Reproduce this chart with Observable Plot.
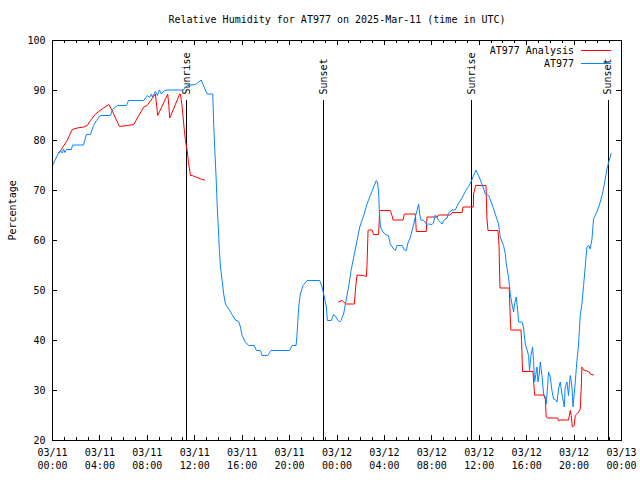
<!DOCTYPE html>
<html><head><meta charset="utf-8">
<script src="https://cdn.jsdelivr.net/npm/d3@7"></script>
<script src="https://cdn.jsdelivr.net/npm/@observablehq/plot@0.6"></script>
<style>
body{margin:0;background:#fff;}
#wrap{position:relative;width:640px;height:480px;}
#legend{position:absolute;left:0;top:0;pointer-events:none;}
</style></head><body>
<div id="wrap"></div>
<script>
const title = "Relative Humidity for AT977 on 2025-Mar-11 (time in UTC)";
const yLabel = "Percentage";
const startUTC = Date.UTC(2025, 2, 11);
const seriesNames = ["AT977 Analysis", "AT977"];
const seriesColors = ["#ff0000", "#0a84ff"];

// hours since 03/11 00:00 UTC
const analysisHours = [0.55,1.24,1.66,2.08,2.64,2.93,3.2,3.63,4.19,4.75,5.03,5.31,5.65,6.3,6.86,7.28,7.7,7.98,8.68,8.83,8.88,9.72,9.81,9.89,10.73,10.79,10.94,11.07,11.21,11.36,11.49,11.64,11.78,12.2,12.62,12.84,
  18,
  24.14,24.43,24.56,24.76,25.46,25.6,25.69,26.22,26.48,26.53,26.62,26.67,26.96,27.09,27.51,27.6,28.5,28.64,28.73,29.57,29.68,30.61,30.69,31.53,31.59,32.46,32.55,33.56,33.7,34.55,34.63,35.5,35.52,35.69,36.57,36.65,36.74,37.58,37.67,37.72,37.75,38.53,38.56,38.62,38.67,39.52,39.57,39.65,40.53,40.58,40.67,41.43,41.57,41.65,41.76,42.61,42.69,42.77,43.53,43.68,43.76,43.85,44.01,44.1,44.38,44.52,44.6,44.66,44.8,45.08,45.28,45.36,45.64];
const analysisValues = [77.5,80,82.2,82.5,82.7,83,84,85.3,86.3,87.2,86,84.5,82.8,83,83.2,85,86.7,87,89.3,86,85,89.3,87,84.5,89.3,89.3,86.7,83.3,80,78,75.3,73,73,72.6,72.2,72.1,
  NaN,
  47.7,48,47.7,47.3,47.3,51.3,53.1,53,52.8,55,62,62.1,62.1,61.2,61.2,66,66,65,64.1,64.1,65.3,65.3,61.8,61.8,64.7,64.7,65.1,65.1,65.6,65.6,66.7,66.7,69.3,71,71,64.3,62,62,59,53.3,50.5,50.5,48.3,44.3,42.1,42.1,40,33.8,33.8,32,29.1,29.1,28.3,24.7,24.5,24.5,23.9,24.1,24.1,26,25,22.7,23,25,25.7,26.3,30.3,34.7,34.1,33.9,33.7,33.3,33.1];

const stationHours = [0,0.5,0.67,0.82,0.93,1.05,1.18,1.6,1.69,2.61,2.87,3.2,3.46,3.71,4.05,4.89,5.06,5.48,6.24,6.41,7.7,8.01,8.18,8.35,8.43,8.68,8.85,9.02,9.19,9.44,9.7,11.05,11.36,12.06,12.54,13.04,13.52,13.6,13.68,13.8,13.89,14.0,14.08,14.17,14.31,14.44,14.59,14.87,15.15,15.43,15.71,15.85,16.0,16.27,16.55,17.03,17.2,17.54,17.68,18.15,18.44,20.01,20.21,20.55,20.63,20.77,20.91,21.14,21.48,22.54,22.74,22.93,23.1,23.19,23.52,23.72,23.92,24.0,24.22,24.34,24.56,24.71,24.98,25.19,25.41,25.69,25.92,26.25,26.53,26.81,27.09,27.32,27.43,27.52,27.57,27.66,27.88,28.08,28.33,28.5,28.78,28.92,29.06,29.49,29.68,29.85,29.96,30.19,30.41,30.61,30.75,30.89,30.97,31.09,31.28,31.45,31.59,31.73,32.02,32.13,32.29,32.44,32.57,32.86,32.99,33.28,33.41,33.7,33.98,34.26,34.55,34.82,35.1,35.39,35.72,35.94,36.23,36.51,36.79,37.07,37.35,37.63,37.77,38.05,38.2,38.28,38.47,38.62,38.76,38.9,38.98,39.12,39.23,39.32,39.6,39.73,39.88,40.08,40.16,40.24,40.36,40.5,40.58,40.67,40.78,40.87,40.95,41.06,41.15,41.29,41.43,41.57,41.65,41.76,41.85,41.99,42.13,42.27,42.41,42.56,42.69,42.83,42.98,43.17,43.25,43.4,43.53,43.62,43.68,43.82,43.91,44.01,44.1,44.24,44.38,44.52,44.66,44.8,44.94,45.08,45.22,45.36,45.51,45.64,45.93,46.21,46.43,46.63,46.77,46.96,47.13];
const stationValues = [75,77.5,78,77.5,78.3,77.6,78.2,78.2,79.1,79.1,81.2,81.2,83,84,85,85,86.2,87,87,88,88,89,88.6,89.3,88.7,89.8,89,90.1,89.3,90,90.1,90.1,91,91.2,92.1,89.3,89.3,83.3,78.7,72.7,67.3,62,58,54.7,52,49.3,47.3,46.3,45.2,44.1,43.8,42.7,41,39.7,39,39,38,38,37,37,38,38,39,39,41.3,46.7,49.3,51,52,52,50.7,48.7,46.7,44,44,45.2,44.7,44.3,43.7,44,45.3,47.3,50.7,54,56.7,60,62.7,65,67.3,69,70.7,72,71.5,69.3,66,62.7,61.7,61.2,61,59.3,58.3,58,59,59,58.1,58,59.3,60.7,62.7,64.7,66,67.3,65.3,64.1,64,63.7,63,63.3,63.2,63.5,65.1,64.7,64,63.3,64,64.5,65.5,66.1,66.1,67.5,68.5,69.8,70.8,72.2,74.1,73,71.3,69.3,69,67.3,65.3,63.3,60.7,59,57.3,55.3,52.7,49.3,47.3,45.7,47.3,48.7,46.3,43.7,43.7,42.7,39.3,37.7,37,34,37,38.7,36,31.7,33.3,34.7,31.7,33.3,35.7,33,29.3,28.7,27.3,30.7,33.7,32.7,30,28.3,28.2,27.7,30.3,31.7,29.3,26.7,30.7,31.7,29,31.7,33,30.7,26.7,29.3,31.7,36,39.3,45,47.3,51,54.7,58.7,59,58.3,60.3,64.3,65.7,67.7,69.7,72.3,74.3,76,77.4];

const sunEventNames = ["Sunrise", "Sunset", "Sunrise", "Sunset"];
const sunEventHours = [11.33, 22.85, 35.33, 46.87];
const sunLineTop = 88;

const xTickHours = [0,4,8,12,16,20,24,28,32,36,40,44,48];
const minorTickHours = d3.range(0, 49, 1);
const yTicks = [20,30,40,50,60,70,80,90,100];

const toDate = h => new Date(startUTC + h * 3600e3);
const analysis = analysisHours.map((h, i) => ({t: toDate(h), v: analysisValues[i]}));
const station = stationHours.map((h, i) => ({t: toDate(h), v: stationValues[i]}));
const sun = sunEventHours.map((h, i) => ({t: toDate(h), name: sunEventNames[i]}));
const xTicks = xTickHours.map(toDate);
const minorTicks = minorTickHours.filter(h => h % 4 !== 0).map(toDate);

const FW = 400, FWX = 569;
const font = "'DejaVu Sans Mono', monospace";
const crisp = {shapeRendering: "crispEdges", stroke: "black", strokeWidth: 1};

const chart = Plot.plot({
  width: 640, height: 480,
  marginLeft: 52, marginRight: 19, marginTop: 40, marginBottom: 40,
  style: {fontFamily: font, fontSize: "10px", background: "#fff", color: "#000"},
  x: {type: "utc", domain: [toDate(0), toDate(48)]},
  y: {domain: [20, 100]},
  marks: [
    Plot.axisX(xTicks, {tickSize: 0, tickPadding: 6, tickFormat: d3.utcFormat("%m/%d\n%H:%M"), lineHeight: 1.3, label: null, fill: "black"}),
    Plot.axisY(yTicks, {tickSize: 0, tickPadding: 7, label: null, fill: "black"}),
    Plot.text([yLabel], {frameAnchor: "left", dx: -40, rotate: -90, fill: "black"}),
    Plot.text([title], {frameAnchor: "top", lineAnchor: "middle", dy: -21, fill: "black"}),
    // ticks: bottom & top, minor and major
    Plot.tickX(xTicks, {x: d => d, insetTop: FW - 5, ...crisp}),
    Plot.tickX(xTicks, {x: d => d, insetBottom: FW - 5, ...crisp}),
    Plot.tickX(minorTicks, {x: d => d, insetTop: FW - 3, ...crisp}),
    Plot.tickX(minorTicks, {x: d => d, insetBottom: FW - 3, ...crisp}),
    Plot.tickY(yTicks, {y: d => d, insetRight: FWX - 5, ...crisp}),
    Plot.tickY(yTicks, {y: d => d, insetLeft: FWX - 5, ...crisp}),
    Plot.ruleX(sun, {x: "t", y1: 20, y2: sunLineTop, ...crisp}),
    Plot.text(sun, {x: "t", y: sunLineTop, text: "name", rotate: -90, textAnchor: "start", lineAnchor: "middle", dy: -6, fill: "black"}),
    Plot.line(analysis, {x: "t", y: "v", stroke: seriesColors[0], strokeWidth: 1, strokeLinejoin: "miter"}),
    Plot.line(station, {x: "t", y: "v", stroke: seriesColors[1], strokeWidth: 1, strokeLinejoin: "miter"}),
    Plot.frame({...crisp})
  ]
});
const wrap = document.getElementById("wrap");
wrap.appendChild(chart);

// legend overlay (top-right inside frame)
const ns = "http://www.w3.org/2000/svg";
const leg = document.createElementNS(ns, "svg");
leg.setAttribute("id", "legend");
leg.setAttribute("width", 640);
leg.setAttribute("height", 480);
seriesNames.forEach((name, i) => {
  const y = 50 + i * 13;
  const t = document.createElementNS(ns, "text");
  t.setAttribute("x", 574);
  t.setAttribute("y", y);
  t.setAttribute("text-anchor", "end");
  t.setAttribute("dominant-baseline", "central");
  t.setAttribute("font-family", "DejaVu Sans Mono, monospace");
  t.setAttribute("font-size", "10");
  t.textContent = name;
  leg.appendChild(t);
  const l = document.createElementNS(ns, "line");
  l.setAttribute("x1", 581); l.setAttribute("x2", 611);
  l.setAttribute("y1", y + 0.5); l.setAttribute("y2", y + 0.5);
  l.setAttribute("stroke", seriesColors[i]);
  l.setAttribute("stroke-width", 1);
  leg.appendChild(l);
});
wrap.appendChild(leg);
</script>
</body></html>
